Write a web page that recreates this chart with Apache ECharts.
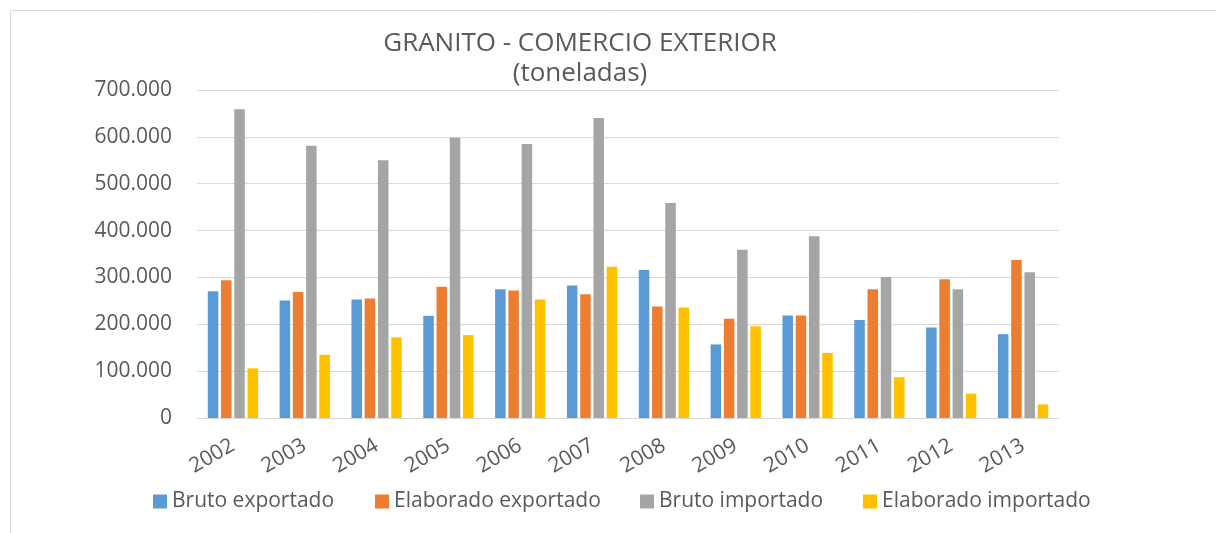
<!DOCTYPE html>
<html>
    <head>
        <meta charset="utf-8">
        <script src="https://cdn.jsdelivr.net/npm/echarts@6/dist/echarts.min.js"></script>
        <style>
            body { margin: 0; background: #fff; }
        </style>
    </head>
    <body>
        <div id="main" style="width: 1216px;height:533px;"></div>
        <script type="text/javascript">
            // datos (toneladas)
            var years = ['2002', '2003', '2004', '2005', '2006', '2007', '2008', '2009', '2010', '2011', '2012', '2013'];
            var brutoExportado = [270600, 250700, 253000, 218000, 275000, 283000, 316000, 157000, 219000, 209000, 193000, 179000];
            var elaboradoExportado = [294000, 269000, 255000, 280000, 272000, 264000, 238000, 212000, 219000, 275000, 296000, 337000];
            var brutoImportado = [659000, 581000, 550000, 598000, 585000, 640000, 459000, 359000, 388000, 301000, 275000, 311000];
            var elaboradoImportado = [106000, 135000, 172000, 177000, 253000, 323000, 236000, 196000, 139000, 87000, 52000, 29000];
            var seriesNames = ['Bruto exportado', 'Elaborado exportado', 'Bruto importado', 'Elaborado importado'];
            var colors = ['#5B9BD5', '#ED7D31', '#A5A5A5', '#FFC000'];

            var font = 'Open Sans';
            var textColor = '#595959';

            function fmt(v) {
                if (v === 0) return '0';
                return String(v).replace(/\B(?=(\d{3})+(?!\d))/g, '.');
            }

            var allData = [brutoExportado, elaboradoExportado, brutoImportado, elaboradoImportado];
            var legendLeft = [148, 370, 635, 858];

            let myChart = echarts.init(document.getElementById('main'));

            let option = {
                animation: false,
                color: colors,
                graphic: [{
                    type: 'rect',
                    shape: { x: 10.5, y: 10.5, width: 1230, height: 540 },
                    style: { fill: 'none', stroke: '#d9d9d9', lineWidth: 1 }
                }],
                title: {
                    text: 'GRANITO - COMERCIO EXTERIOR\n(toneladas)',
                    left: 575,
                    top: 24,
                    textAlign: 'center',
                    textStyle: {
                        fontFamily: font,
                        fontSize: 26,
                        fontWeight: 'normal',
                        color: textColor,
                        lineHeight: 30
                    }
                },
                legend: seriesNames.map(function (n, i) {
                    return {
                        data: [n],
                        left: legendLeft[i],
                        top: 486,
                        itemWidth: 14,
                        itemHeight: 14,
                        icon: 'rect',
                        textStyle: { fontFamily: font, fontSize: 21, color: textColor }
                    };
                }),
                grid: {
                    left: 197,
                    right: 157,
                    top: 90,
                    bottom: 115,
                    containLabel: false
                },
                xAxis: {
                    type: 'category',
                    data: years,
                    axisLine: { lineStyle: { color: '#d9d9d9', width: 1 } },
                    axisTick: { show: false },
                    axisLabel: {
                        rotate: 30,
                        margin: 26,
                        fontFamily: font,
                        fontSize: 21,
                        color: textColor
                    }
                },
                yAxis: {
                    type: 'value',
                    min: 0,
                    max: 700000,
                    interval: 100000,
                    axisLine: { show: false },
                    axisTick: { show: false },
                    splitLine: { lineStyle: { color: '#d9d9d9', width: 1 } },
                    axisLabel: {
                        margin: 25,
                        fontFamily: font,
                        fontSize: 21,
                        color: textColor,
                        formatter: fmt
                    }
                },
                series: seriesNames.map(function (n, i) {
                    return {
                        name: n,
                        type: 'bar',
                        data: allData[i],
                        barGap: '26%',
                        barCategoryGap: '30%'
                    };
                })
            };

            myChart.setOption(option);
        </script>
    </body>
</html>
